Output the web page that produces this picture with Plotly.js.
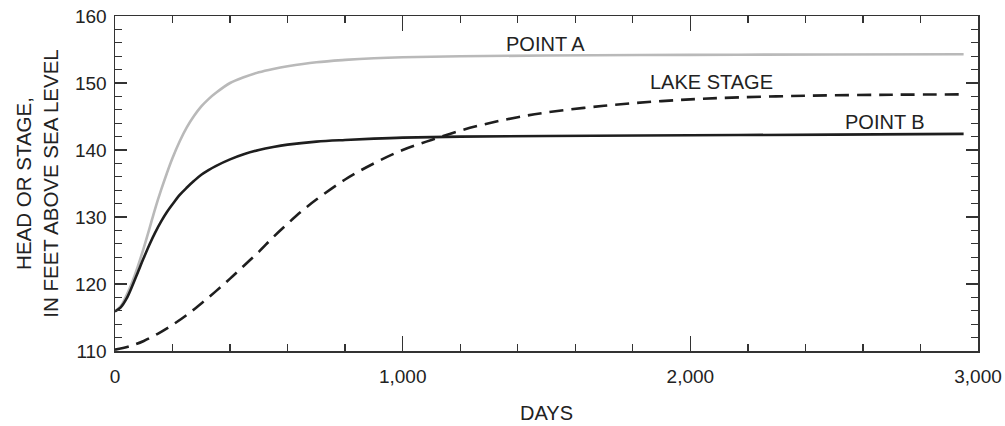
<!DOCTYPE html>
<html>
<head>
<meta charset="utf-8">
<script src="https://cdn.plot.ly/plotly-3.0.1.min.js"></script>
<style>html,body{margin:0;padding:0;background:#fff;}#chart{width:1005px;height:426px;}</style>
</head>
<body>
<div id="chart"></div>
<script>
// Point A (gray)
const daysA = [0,20,40,60,80,100,120,140,160,180,200,225,250,275,300,325,350,400,450,500,550,600,700,800,900,1000,1200,1500,2000,2500,2950];
const headA = [115.9,116.7,118.3,120.3,122.7,125.4,128.3,131.3,134.0,136.5,138.8,141.3,143.4,145.1,146.5,147.6,148.5,150.0,150.9,151.6,152.1,152.5,153.1,153.45,153.7,153.85,154.0,154.1,154.2,154.25,154.3];
// Point B (black)
const daysB = [0,20,40,60,80,100,120,140,160,180,200,225,250,275,300,325,350,400,450,500,550,600,700,800,900,1000,1200,1500,2000,2500,2950];
const headB = [115.9,116.5,117.8,119.7,121.8,123.9,125.9,127.7,129.3,130.7,131.9,133.3,134.4,135.4,136.3,137.0,137.6,138.6,139.4,140.0,140.45,140.8,141.25,141.5,141.7,141.85,142.0,142.1,142.2,142.3,142.4];
// Lake stage (dashed)
const daysL = [0,50,100,150,200,250,300,350,400,450,500,550,600,650,700,800,900,1000,1100,1200,1300,1400,1500,1700,1900,2100,2400,2700,2950];
const stageL = [110.2,110.7,111.5,112.6,113.9,115.4,117.1,118.9,120.8,122.8,124.8,127.0,129.0,130.9,132.6,135.6,138.0,140.0,141.5,142.9,144.0,144.9,145.6,146.6,147.3,147.75,148.1,148.25,148.3];

const labels = [
  {text:'POINT A', x:1495, y:155.8},
  {text:'LAKE STAGE', x:2075, y:150.1},
  {text:'POINT B', x:2676, y:144.2}
];

const FONT = 'Liberation Sans, Arial, Helvetica, sans-serif';
const traces = [
  {x:daysA, y:headA, mode:'lines', line:{color:'#b9b9b9', width:2.6, shape:'spline', smoothing:1}, hoverinfo:'skip'},
  {x:daysL, y:stageL, mode:'lines', line:{color:'#1e1e1e', width:2.6, dash:'14px,8px', shape:'spline', smoothing:1}, hoverinfo:'skip'},
  {x:daysB, y:headB, mode:'lines', line:{color:'#1e1e1e', width:2.6, shape:'spline', smoothing:1}, hoverinfo:'skip'}
];

const layout = {
  width:1005, height:426,
  margin:{l:115, r:27, t:16, b:75},
  paper_bgcolor:'#fff', plot_bgcolor:'#fff',
  showlegend:false,
  font:{family:FONT, size:19, color:'#222'},
  xaxis:{
    range:[0,3000], dtick:1000, tick0:0, tickformat:',d',
    ticks:'inside', ticklen:15, tickwidth:1.5, tickcolor:'#333',
    showline:true, linecolor:'#333', linewidth:1.5, mirror:'allticks',
    showgrid:false, zeroline:false, ticklabelstandoff:8,
    minor:{dtick:200, ticks:'inside', ticklen:7, tickwidth:1.3, tickcolor:'#333', showgrid:false},
    tickfont:{size:19, family:FONT, color:'#222'},
    title:{text:'DAYS', font:{size:20, family:FONT, color:'#222'}, standoff:19}
  },
  yaxis:{
    range:[110,160], dtick:10, tick0:110,
    ticks:'inside', ticklen:12, tickwidth:1.5, tickcolor:'#333',
    showline:true, linecolor:'#333', linewidth:1.5, mirror:'allticks',
    showgrid:false, zeroline:false, ticklabelstandoff:3,
    minor:{dtick:2, ticks:'inside', ticklen:7, tickwidth:1.3, tickcolor:'#333', showgrid:false},
    tickfont:{size:19, family:FONT, color:'#222'},
    title:{text:'HEAD OR STAGE,<br>IN FEET ABOVE SEA LEVEL', font:{size:20.5, family:FONT, color:'#222'}, standoff:11}
  },
  annotations: labels.map(l => ({x:l.x, y:l.y, xref:'x', yref:'y', text:l.text, showarrow:false,
    font:{size:20, family:FONT, color:'#222'}, xanchor:'center', yanchor:'middle'}))
};

Plotly.newPlot('chart', traces, layout, {staticPlot:true, displayModeBar:false});
</script>
</body>
</html>
